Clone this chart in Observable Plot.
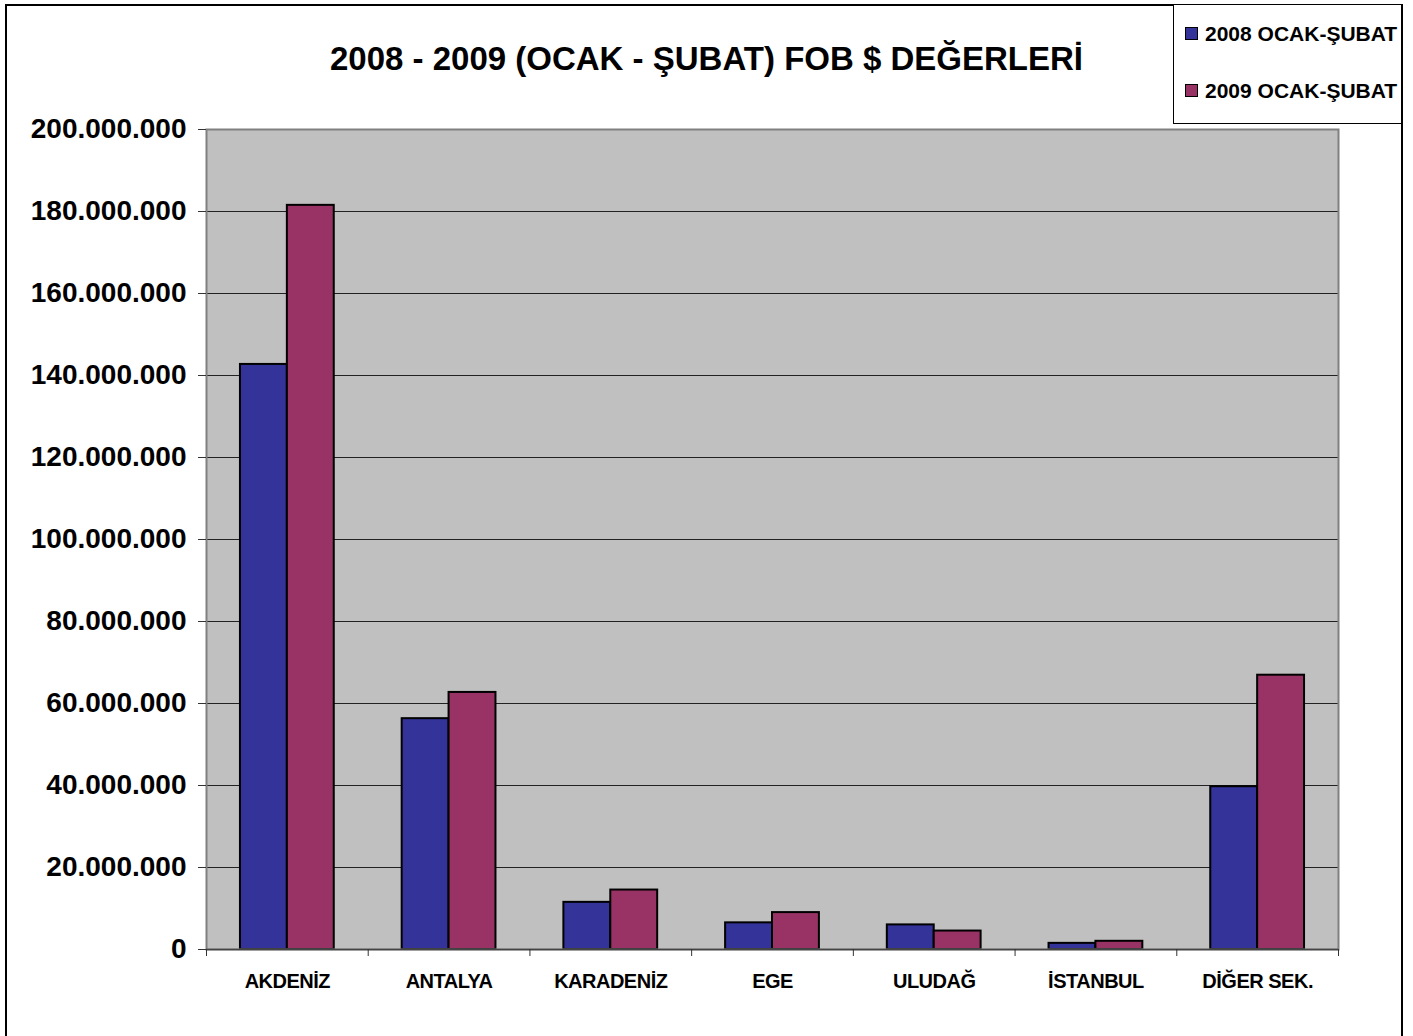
<!DOCTYPE html>
<html>
<head>
<meta charset="utf-8">
<script src="https://cdn.jsdelivr.net/npm/d3@7"></script>
<script src="https://cdn.jsdelivr.net/npm/@observablehq/plot@0.6"></script>
<style>
  html, body { margin: 0; padding: 0; background: #fff; overflow: hidden; }
  body { width: 1413px; height: 1036px; position: relative; font-family: "Liberation Sans", Arial, sans-serif; }
  #outer { position: absolute; left: 5px; top: 4px; width: 1398px; height: 1100px; border: 2px solid #000; box-sizing: border-box; }
  #chart { position: absolute; left: 0; top: 0; }
  #chart svg text { font-weight: bold; }
  #chart svg g[aria-label="x-axis tick label"] text { letter-spacing: -0.5px; }
  #title { position: absolute; left: 0; width: 1413px; top: 39px; text-align: center; font-size: 33px; font-weight: bold; color: #000; line-height: 40px; }
  #legend { position: absolute; left: 1173px; top: 4px; width: 229px; height: 120px; box-sizing: border-box; border: 1px solid #000; background: #fff; }
  .li { position: absolute; left: 11px; font-size: 21px; font-weight: bold; line-height: 24px; white-space: nowrap; }
  .sw { display: inline-block; width: 11px; height: 11px; border: 1px solid #000; margin-right: 7px; vertical-align: 1px; }
</style>
</head>
<body>
<div id="outer"></div>
<div id="chart"></div>
<div id="title"></div>
<div id="legend"></div>
<script>
const categories = ["AKDENİZ", "ANTALYA", "KARADENİZ", "EGE", "ULUDAĞ", "İSTANBUL", "DİĞER SEK."];
const series = ["2008 OCAK-ŞUBAT", "2009 OCAK-ŞUBAT"];
const values2008 = [142.7e6, 56.3e6, 11.5e6, 6.5e6, 6.0e6, 1.5e6, 39.7e6];
const values2009 = [181.5e6, 62.7e6, 14.5e6, 9.0e6, 4.5e6, 2.0e6, 66.9e6];
const colors = ["#333399", "#993366"];
const yTicks = [0, 20e6, 40e6, 60e6, 80e6, 100e6, 120e6, 140e6, 160e6, 180e6, 200e6];
const titleText = "2008 - 2009 (OCAK - ŞUBAT) FOB $ DEĞERLERİ";

const W = 1413, H = 1036;
const mL = 206, mR = 75, mT = 129, mB = 87;
const bw = (W - mL - mR) / categories.length;
const barW = bw * 0.29;

const d2008 = categories.map((c, i) => ({cat: c, v: values2008[i]}));
const d2009 = categories.map((c, i) => ({cat: c, v: values2009[i]}));

const fmt = d3.formatLocale({decimal: ",", thousands: ".", grouping: [3], currency: ["", ""]}).format(",d");

const chart = Plot.plot({
  width: W,
  height: H,
  marginLeft: mL,
  marginRight: mR,
  marginTop: mT,
  marginBottom: mB,
  style: {fontFamily: "'Liberation Sans', Arial, sans-serif", color: "#000", background: "transparent"},
  x: {domain: categories, padding: 0, round: false, axis: null, label: null},
  y: {domain: [0, 200e6], axis: null, label: null},
  marks: [
    Plot.frame({fill: "#c0c0c0", stroke: null}),
    Plot.ruleY(yTicks.slice(1), {stroke: "#222", strokeWidth: 1}),
    Plot.barY(d2008, {x: "cat", y: "v", fill: colors[0], stroke: "#000", strokeWidth: 2,
      insetLeft: bw / 2 - barW, insetRight: bw / 2}),
    Plot.barY(d2009, {x: "cat", y: "v", fill: colors[1], stroke: "#000", strokeWidth: 2,
      insetLeft: bw / 2, insetRight: bw / 2 - barW}),
    Plot.frame({stroke: "#808080", strokeWidth: 2}),
    Plot.ruleY([0], {stroke: "#444", strokeWidth: 1.5}),
    Plot.axisY(yTicks, {tickSize: 8, tickPadding: 12, tickFormat: fmt, fontSize: 28, stroke: "#333", label: null}),
    Plot.axisX(categories, {tickSize: 7, text: null, dx: -bw / 2, stroke: "#333", label: null}),
    Plot.axisX(categories.slice(-1), {tickSize: 7, text: null, dx: bw / 2, stroke: "#333", label: null}),
    Plot.axisX(categories, {tickSize: 0, tickPadding: 24, fontSize: 20, label: null})
  ]
});
document.getElementById("chart").appendChild(chart);

document.getElementById("title").textContent = titleText;
const legend = document.getElementById("legend");
series.forEach((s, i) => {
  const item = document.createElement("div");
  item.className = "li";
  item.style.top = (17 + i * 57) + "px";
  const sw = document.createElement("span");
  sw.className = "sw";
  sw.style.background = colors[i];
  item.appendChild(sw);
  item.appendChild(document.createTextNode(s));
  legend.appendChild(item);
});
</script>
</body>
</html>
